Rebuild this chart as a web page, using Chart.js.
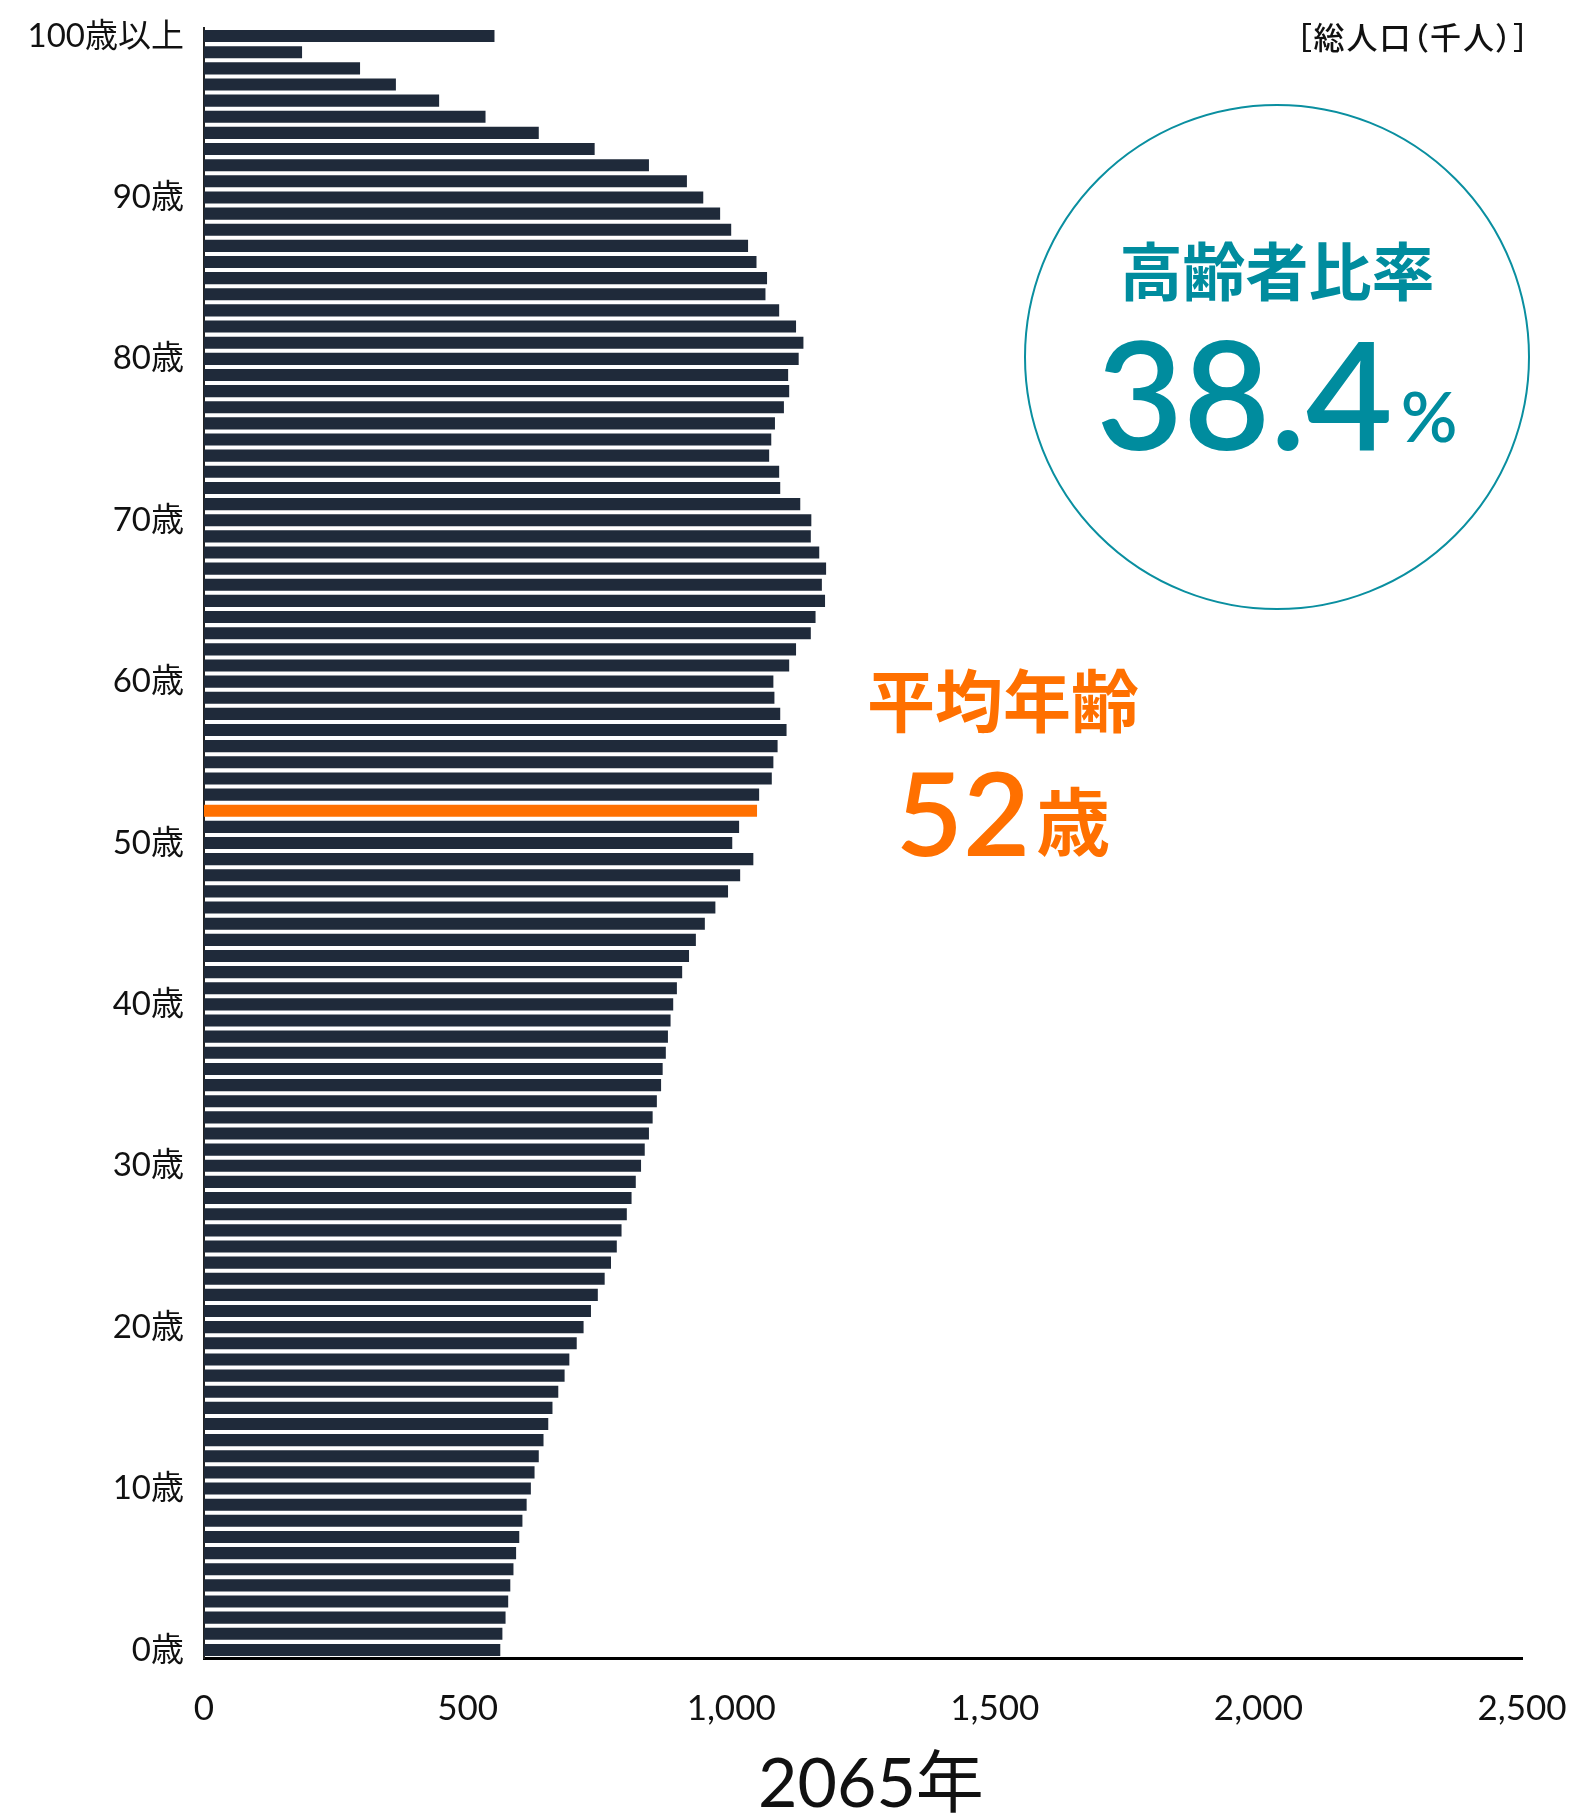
<!DOCTYPE html>
<html lang="ja">
<head>
<meta charset="utf-8">
<title>2065年 人口ピラミッド</title>
<script src="https://cdn.jsdelivr.net/npm/chart.js@4.4.1/dist/chart.umd.min.js"></script>
<style>
    body { margin: 0; background: #fff; }
    #wrap { position: relative; width: 1573px; height: 1818px; }
    .note { position: absolute; white-space: nowrap; line-height: 1; }
    #unit { left: 1236px; top: 13px; width: 295px; text-align: right; font: 500 31px 'Noto Sans CJK JP'; color: #111; font-feature-settings: "palt"; letter-spacing: 2px; }
    #circle { position: absolute; left: 1024px; top: 104px; width: 506px; height: 506px; border: 2px solid #0a8fa0; border-radius: 50%; box-sizing: border-box; }
    #ratioTitle { left: 1024px; top: 222px; width: 506px; text-align: center; font: bold 63px 'Noto Sans CJK JP'; color: #008c9e; }
    #ratioValue { left: 1024px; top: 302px; width: 506px; text-align: center; font: 600 150px Lato, sans-serif; color: #008c9e; }
    #ratioValue small { font-size: 70px; margin-left: 8px; position: relative; top: -8px; }
    #avgTitle { left: 803px; top: 648px; width: 400px; text-align: center; font: bold 68px 'Noto Sans CJK JP'; color: #ff7000; }
    #avgValue { left: 803px; top: 742px; width: 400px; text-align: center; font: 600 116px Lato, sans-serif; color: #ff7000; }
    #avgValue small { font: bold 74px 'Noto Sans CJK JP'; margin-left: 6px; position: relative; top: -6px; }
    #year { left: 571px; top: 1728px; width: 600px; text-align: center; font: 68px Lato, 'Noto Sans CJK JP', sans-serif; color: #111; }
</style>
</head>
<body>
<div id="wrap">
    <canvas id="pyramidChart"></canvas>
    <div class="note" id="unit">［総人口（千人）］</div>
    <div id="circle"></div>
    <div class="note" id="ratioTitle">高齢者比率</div>
    <div class="note" id="ratioValue">38.4<small>%</small></div>
    <div class="note" id="avgTitle">平均年齢</div>
    <div class="note" id="avgValue">52<small>歳</small></div>
    <div class="note" id="year">2065年</div>
</div>
<script>
// population by age (thousands), 2065
const pop0s  = [562, 566, 572, 577, 581, 587, 592, 598, 604, 612];
const pop10s = [620, 627, 635, 644, 653, 661, 672, 684, 693, 707];
const pop20s = [720, 734, 747, 760, 772, 783, 792, 802, 811, 819];
const pop30s = [829, 836, 844, 851, 859, 867, 870, 876, 880, 885];
const pop40s = [890, 897, 907, 920, 933, 950, 970, 994, 1017, 1042];
const pop50s = [1002, 1015, 1049, 1053, 1077, 1080, 1088, 1105, 1093, 1082];
const pop60s = [1080, 1110, 1123, 1151, 1160, 1178, 1172, 1180, 1167, 1151];
const pop70s = [1152, 1131, 1093, 1091, 1072, 1076, 1083, 1100, 1110, 1108];
const pop80s = [1128, 1137, 1123, 1091, 1065, 1068, 1048, 1032, 1000, 979];
const pop90s = [947, 916, 844, 741, 635, 534, 446, 364, 296, 186];
const pop100plus = [551];

const labeledAges = [0, 10, 20, 30, 40, 50, 60, 70, 80, 90, 100];
const labelTexts = ['0歳', '10歳', '20歳', '30歳', '40歳', '50歳', '60歳', '70歳', '80歳', '90歳', '100歳以上'];
const xTicks = [0, 500, 1000, 1500, 2000, 2500];
const averageAge = 52;

const population = [].concat(pop0s, pop10s, pop20s, pop30s, pop40s,
    pop50s, pop60s, pop70s, pop80s, pop90s, pop100plus);
const ages = population.map((v, i) => i);

const BAR = '#1f2a3a';
const ORANGE = '#ff7000';
const FONT = "Lato, 'Noto Sans CJK JP', sans-serif";

new Chart(document.getElementById('pyramidChart'), {
    type: 'bar',
    data: {
        labels: ages,
        datasets: [{
            data: population,
            backgroundColor: ages.map(a => a === averageAge ? ORANGE : BAR),
            barPercentage: 0.75,
            categoryPercentage: 1.0
        }]
    },
    options: {
        indexAxis: 'y',
        responsive: true,
        maintainAspectRatio: false,
        animation: false,
        layout: { padding: { top: 28, right: 51, left: 0, bottom: 0 } },
        plugins: {
            legend: { display: false },
            tooltip: { enabled: false }
        },
        scales: {
            x: {
                min: 0,
                max: 2500,
                grid: { display: false, drawTicks: false },
                border: { display: true, color: '#000', width: 3 },
                afterBuildTicks: axis => { axis.ticks = xTicks.map(v => ({ value: v })); },
                afterFit: axis => {
                    axis.height = 160;
                    axis.paddingLeft = 0;
                    axis.paddingRight = 0;
                },
                ticks: {
                    padding: 30,
                    color: '#111',
                    font: { family: FONT, size: 35 },
                    callback: v => v.toLocaleString('en-US')
                }
            },
            y: {
                reverse: true,
                grid: { display: false, drawTicks: false },
                border: { display: true, color: '#222', width: 2 },
                afterFit: axis => {
                    axis.width = 204;
                    axis.paddingTop = 0;
                    axis.paddingBottom = 0;
                },
                ticks: {
                    autoSkip: false,
                    padding: 20,
                    color: '#111',
                    font: { family: FONT, size: 33 },
                    callback: (value, index) => {
                        const k = labeledAges.indexOf(ages[index]);
                        return k >= 0 ? labelTexts[k] : '';
                    }
                }
            }
        }
    }
});
</script>
</body>
</html>
